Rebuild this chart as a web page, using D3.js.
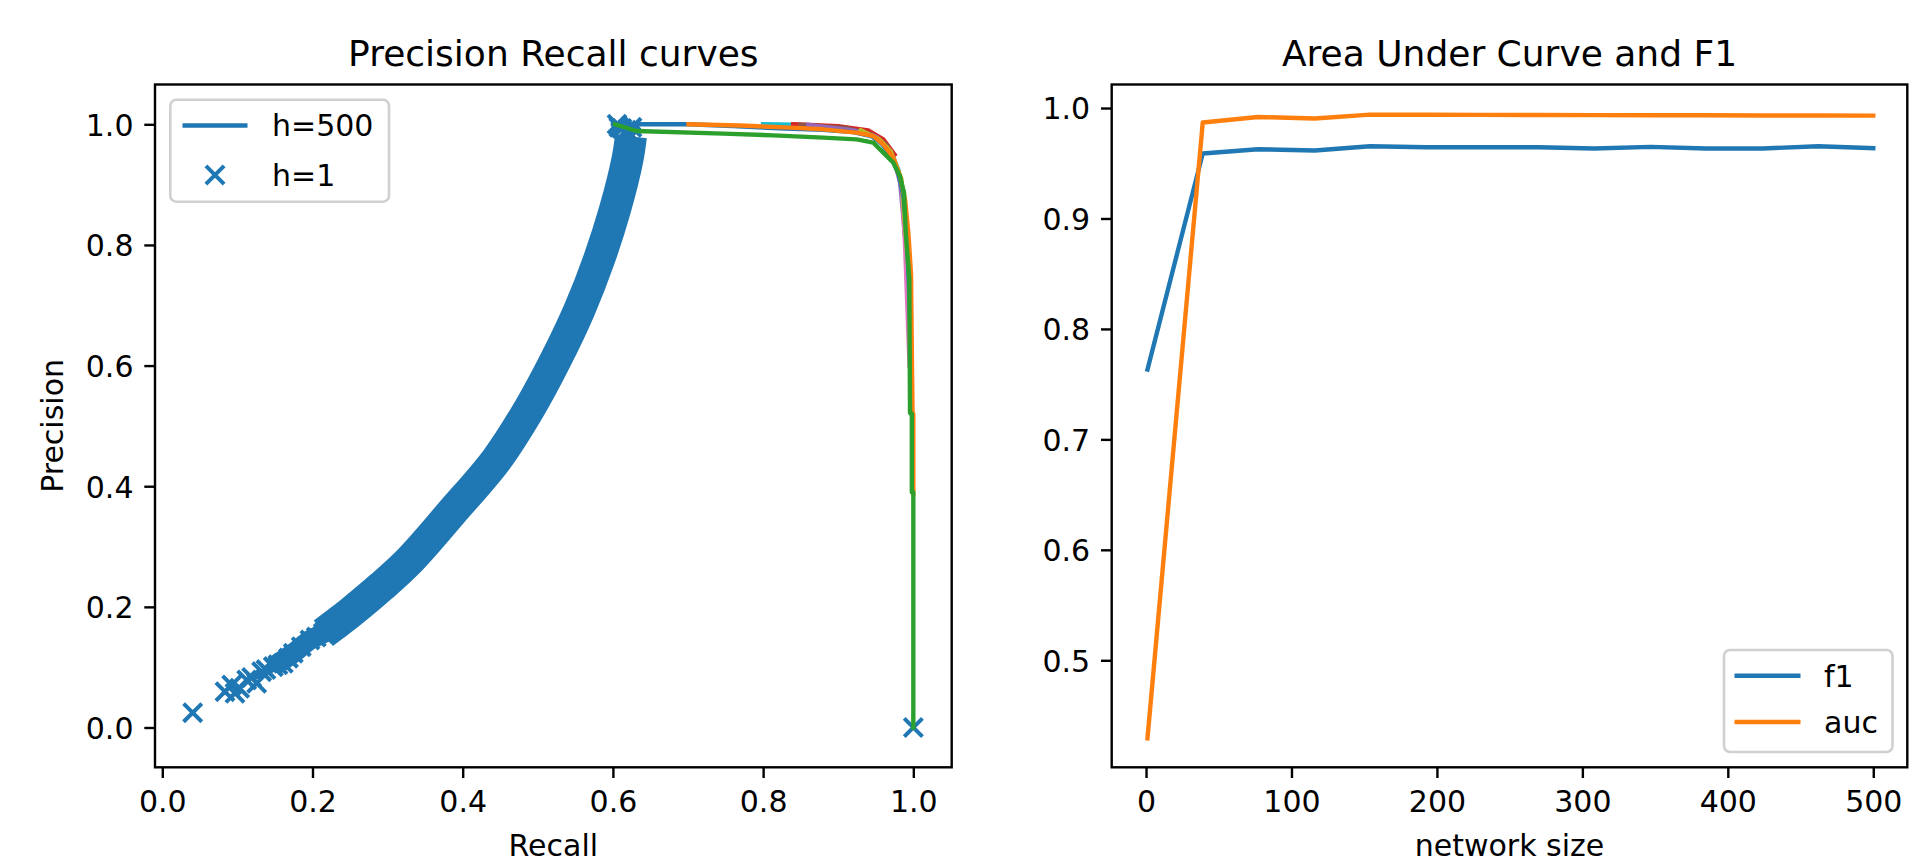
<!DOCTYPE html>
<html>
<head>
<meta charset="utf-8">
<script src="https://cdn.jsdelivr.net/npm/d3@7"></script>
<style>
body { margin: 0; background: #fff; }
svg text { font-family: "DejaVu Sans", sans-serif; fill: #000; }
</style>
</head>
<body>
<svg id="chart" width="1931" height="862"></svg>
<script>
'use strict';

// ---- Precision Recall curves ----
// h=1 : scattered 'x' points (sparse low end, top corner, last point)
const h1Recall = [0.0405, 0.0835, 0.0924, 0.0968, 0.1030, 0.1124, 0.1190, 0.1257, 0.1323, 0.1380, 0.1478, 0.1540, 0.1611, 0.1680, 0.1744, 0.1850, 0.1967, 0.2050, 0.2144, 0.2230,
	0.6055, 0.6080, 0.6120, 0.6180, 0.6220, 0.6254, 1.0];
const h1Precision = [0.0246, 0.0594, 0.0705, 0.0567, 0.0650, 0.0788, 0.0830, 0.0734, 0.0926, 0.0960, 0.1009, 0.1040, 0.1066, 0.1150, 0.1232, 0.1340, 0.1452, 0.1500, 0.1563, 0.1640,
	1.0, 0.995, 0.993, 0.990, 0.985, 0.995, 0.0];
// h=1 : centre of the dense band of points (lower, thinner part and main part)
const h1LowRecall = [0.1478, 0.1744, 0.1967, 0.2144, 0.2322];
const h1LowPrecision = [0.1009, 0.1232, 0.1452, 0.1563, 0.1729];
const h1BandRecall = [0.2144, 0.2322, 0.2500, 0.2920, 0.3300, 0.3850, 0.4450, 0.4880, 0.5240, 0.5555, 0.5815, 0.6028, 0.6194, 0.6240];
const h1BandPrecision = [0.1563, 0.1729, 0.1900, 0.2340, 0.2780, 0.3560, 0.4440, 0.5270, 0.6100, 0.6929, 0.7759, 0.8589, 0.9419, 0.9800];

// h=500
const h500Recall = [0.600, 0.700, 0.760, 0.830, 0.880, 0.920, 0.945, 0.958, 0.970, 0.980, 0.987, 0.991, 0.994, 0.996, 0.998, 0.998];
const h500Precision = [1.000, 1.000, 0.997, 0.993, 0.991, 0.987, 0.980, 0.968, 0.948, 0.918, 0.880, 0.820, 0.740, 0.660, 0.600, 0.520];

// other network sizes
const run2Recall = [0.7007, 0.769, 0.836, 0.880, 0.9246, 0.9467, 0.960, 0.9734, 0.9823, 0.989, 0.9934, 0.997, 0.998, 0.999, 1.0, 1.0];
const run2Precision = [1.0, 0.998, 0.9945, 0.9917, 0.9862, 0.9806, 0.9668, 0.9447, 0.914, 0.8755, 0.820, 0.750, 0.620, 0.520, 0.520, 0.388];
const run3Recall = [0.6028, 0.6317, 0.747, 0.8136, 0.880, 0.9246, 0.9467, 0.960, 0.9734, 0.9823, 0.9876, 0.990, 0.9947, 0.9956, 0.998, 0.998, 1.0, 1.0];
const run3Precision = [1.0, 0.9889, 0.9846, 0.9817, 0.978, 0.9751, 0.9696, 0.953, 0.9364, 0.914, 0.8866, 0.820, 0.7427, 0.5215, 0.520, 0.390, 0.390, 0.0];
const run4Recall = [0.84, 0.90, 0.94, 0.96, 0.975];
const run4Precision = [1.0, 0.997, 0.990, 0.975, 0.950];
const run5Recall = [0.86, 0.92, 0.95, 0.97, 0.982, 0.990];
const run5Precision = [0.999, 0.990, 0.980, 0.955, 0.910, 0.800];
const run6Recall = [0.85, 0.91, 0.945, 0.965];
const run6Precision = [0.999, 0.994, 0.983, 0.965];
const run7Recall = [0.96, 0.975, 0.985, 0.989, 0.992, 0.995];
const run7Precision = [0.965, 0.940, 0.890, 0.800, 0.700, 0.600];
const run9Recall = [0.93, 0.955, 0.97, 0.984, 0.991, 0.996];
const run9Precision = [0.990, 0.975, 0.955, 0.910, 0.800, 0.720];
const run10Recall = [0.80, 0.86, 0.90, 0.935, 0.955, 0.97, 0.98, 0.986, 0.992, 0.997];
const run10Precision = [1.0, 0.999, 0.995, 0.988, 0.975, 0.955, 0.925, 0.880, 0.800, 0.680];

const prTicks = [0, 0.2, 0.4, 0.6, 0.8, 1.0];

// ---- Area Under Curve and F1 ----
const networkSizes = [1, 39, 77, 116, 154, 193, 231, 270, 308, 347, 385, 424, 462, 500];
const f1Scores = [0.7633, 0.9588, 0.9627, 0.9615, 0.9654, 0.9645, 0.9645, 0.9645, 0.9634, 0.9648, 0.9634, 0.9634, 0.9654, 0.9636];
const aucScores = [0.4294, 0.9869, 0.9919, 0.9905, 0.9940, 0.9939, 0.9938, 0.9937, 0.9936, 0.9935, 0.9934, 0.9933, 0.9932, 0.9931];
const sizeTicks = [0, 100, 200, 300, 400, 500];
const scoreTicks = [0.5, 0.6, 0.7, 0.8, 0.9, 1.0];

const C = {blue: "#1f77b4", orange: "#ff7f0e", green: "#2ca02c", red: "#d62728", purple: "#9467bd",
	brown: "#8c564b", pink: "#e377c2", olive: "#bcbd22", cyan: "#17becf"};

const FONT = 30, TITLE_FONT = 36, LW = 4.4, SPINE = 2.4, TICK = 10.7, MARK = 9.1, MARK_W = 4;

let svg = d3.select("#chart");

function zip(xs, ys) {
	return xs.map(function (v, i) { return [v, ys[i]]; });
}

function makeAxes(id, box, xDomain, yDomain, xTicks, yTicks, xFmt, yFmt, title, xLabel, yLabel) {
	let x = d3.scaleLinear().domain(xDomain).range([box.x0, box.x1]);
	let y = d3.scaleLinear().domain(yDomain).range([box.y1, box.y0]);

	svg.append("clipPath").attr("id", id)
		.append("rect")
		.attr("x", box.x0).attr("y", box.y0)
		.attr("width", box.x1 - box.x0).attr("height", box.y1 - box.y0);

	let xa = svg.append("g")
		.attr("transform", "translate(0," + box.y1 + ")")
		.call(d3.axisBottom(x).tickValues(xTicks).tickFormat(xFmt).tickSize(TICK).tickPadding(12.4));
	let ya = svg.append("g")
		.attr("transform", "translate(" + box.x0 + ",0)")
		.call(d3.axisLeft(y).tickValues(yTicks).tickFormat(yFmt).tickSize(TICK).tickPadding(10.8));
	[xa, ya].forEach(function (a) {
		a.select(".domain").remove();
		a.selectAll(".tick line").attr("stroke", "#000").attr("stroke-width", SPINE);
		a.selectAll(".tick text").attr("font-size", FONT).attr("font-family", "DejaVu Sans");
	});
	ya.selectAll(".tick text").attr("dy", "0.36em");

	svg.append("text")
		.attr("x", (box.x0 + box.x1) / 2).attr("y", 65.5)
		.attr("text-anchor", "middle").attr("font-size", TITLE_FONT)
		.text(title);
	svg.append("text")
		.attr("x", (box.x0 + box.x1) / 2).attr("y", 856)
		.attr("text-anchor", "middle").attr("font-size", FONT)
		.text(xLabel);
	if (yLabel) {
		svg.append("text")
			.attr("transform", "translate(63," + (box.y0 + box.y1) / 2 + ") rotate(-90)")
			.attr("text-anchor", "middle").attr("font-size", FONT)
			.text(yLabel);
	}

	let plot = svg.append("g").attr("clip-path", "url(#" + id + ")");
	return {x: x, y: y, plot: plot, box: box};
}

function drawFrame(ax) {
	svg.append("rect")
		.attr("x", ax.box.x0).attr("y", ax.box.y0)
		.attr("width", ax.box.x1 - ax.box.x0).attr("height", ax.box.y1 - ax.box.y0)
		.attr("fill", "none").attr("stroke", "#000").attr("stroke-width", SPINE);
}

function drawLine(ax, pts, color, width, cap, curve) {
	let line = d3.line()
		.x(function (d) { return ax.x(d[0]); })
		.y(function (d) { return ax.y(d[1]); });
	if (curve) line.curve(curve);
	ax.plot.append("path")
		.datum(pts)
		.attr("d", line)
		.attr("fill", "none")
		.attr("stroke", color)
		.attr("stroke-width", width)
		.attr("stroke-linejoin", "round")
		.attr("stroke-linecap", cap || "square");
}

function crossPath(r) {
	return "M" + (-r) + "," + (-r) + "L" + r + "," + r + "M" + (-r) + "," + r + "L" + r + "," + (-r);
}

function drawLegend(box, rows) {
	let g = svg.append("g");
	g.append("rect")
		.attr("x", box.x0).attr("y", box.y0)
		.attr("width", box.x1 - box.x0).attr("height", box.y1 - box.y0)
		.attr("rx", 6).attr("ry", 6)
		.attr("fill", "#fff").attr("fill-opacity", 0.8)
		.attr("stroke", "#d0d0d0").attr("stroke-width", 2.6);
	rows.forEach(function (r) {
		if (r.marker) {
			g.append("path")
				.attr("d", crossPath(MARK))
				.attr("transform", "translate(" + (box.hx0 + box.hx1) / 2 + "," + r.y + ")")
				.attr("stroke", r.color).attr("stroke-width", MARK_W).attr("fill", "none");
		} else {
			g.append("line")
				.attr("x1", box.hx0).attr("x2", box.hx1)
				.attr("y1", r.y).attr("y2", r.y)
				.attr("stroke", r.color).attr("stroke-width", LW);
		}
		g.append("text")
			.attr("x", box.tx).attr("y", r.y).attr("dy", "0.36em")
			.attr("font-size", FONT)
			.text(r.label);
	});
}

// ---------------- left panel ----------------
let pr = makeAxes("clipPR", {x0: 155, x1: 951.7, y0: 84.5, y1: 767.3},
	[-0.0097, 1.0511], [-0.066, 1.066], prTicks, prTicks,
	d3.format(".1f"), d3.format(".1f"),
	"Precision Recall curves", "Recall", "Precision");

// dense h=1 band
drawLine(pr, zip(h1LowRecall, h1LowPrecision), C.blue, 20, "butt", d3.curveCatmullRom);
drawLine(pr, zip(h1BandRecall, h1BandPrecision), C.blue, 32, "butt", d3.curveCatmullRom);
pr.plot.selectAll(".h1")
	.data(zip(h1Recall, h1Precision).concat(zip(h1BandRecall, h1BandPrecision)))
	.enter().append("path")
	.attr("class", "h1")
	.attr("d", crossPath(MARK))
	.attr("transform", function (d) { return "translate(" + pr.x(d[0]) + "," + pr.y(d[1]) + ")"; })
	.attr("stroke", C.blue).attr("stroke-width", MARK_W).attr("fill", "none");

let otherRuns = [
	[run10Recall, run10Precision, C.cyan],
	[run4Recall, run4Precision, C.red],
	[run6Recall, run6Precision, C.brown],
	[run5Recall, run5Precision, C.purple],
	[run7Recall, run7Precision, C.pink],
	[run9Recall, run9Precision, C.olive]
];
otherRuns.forEach(function (r) { drawLine(pr, zip(r[0], r[1]), r[2], LW); });
drawLine(pr, zip(h500Recall, h500Precision), C.blue, LW);
drawLine(pr, zip(run2Recall, run2Precision), C.orange, LW);
drawLine(pr, zip(run3Recall, run3Precision), C.green, LW);
drawFrame(pr);

drawLegend({x0: 170.3, x1: 389, y0: 99.8, y1: 201.7, hx0: 182.5, hx1: 247.5, tx: 272},
	[{label: "h=500", color: C.blue, y: 125.5}, {label: "h=1", color: C.blue, y: 175, marker: true}]);

// ---------------- right panel ----------------
let sc = makeAxes("clipSC", {x0: 1111.7, x1: 1907.3, y0: 84.5, y1: 767.3},
	[-23.6, 523.4], [0.4031, 1.0213], sizeTicks, scoreTicks,
	d3.format("d"), d3.format(".1f"),
	"Area Under Curve and F1", "network size", null);

drawLine(sc, zip(networkSizes, f1Scores), C.blue, LW);
drawLine(sc, zip(networkSizes, aucScores), C.orange, LW);
drawFrame(sc);

drawLegend({x0: 1724, x1: 1892.5, y0: 650, y1: 752, hx0: 1734.5, hx1: 1800.5, tx: 1824},
	[{label: "f1", color: C.blue, y: 675.7}, {label: "auc", color: C.orange, y: 722}]);
</script>
</body>
</html>
